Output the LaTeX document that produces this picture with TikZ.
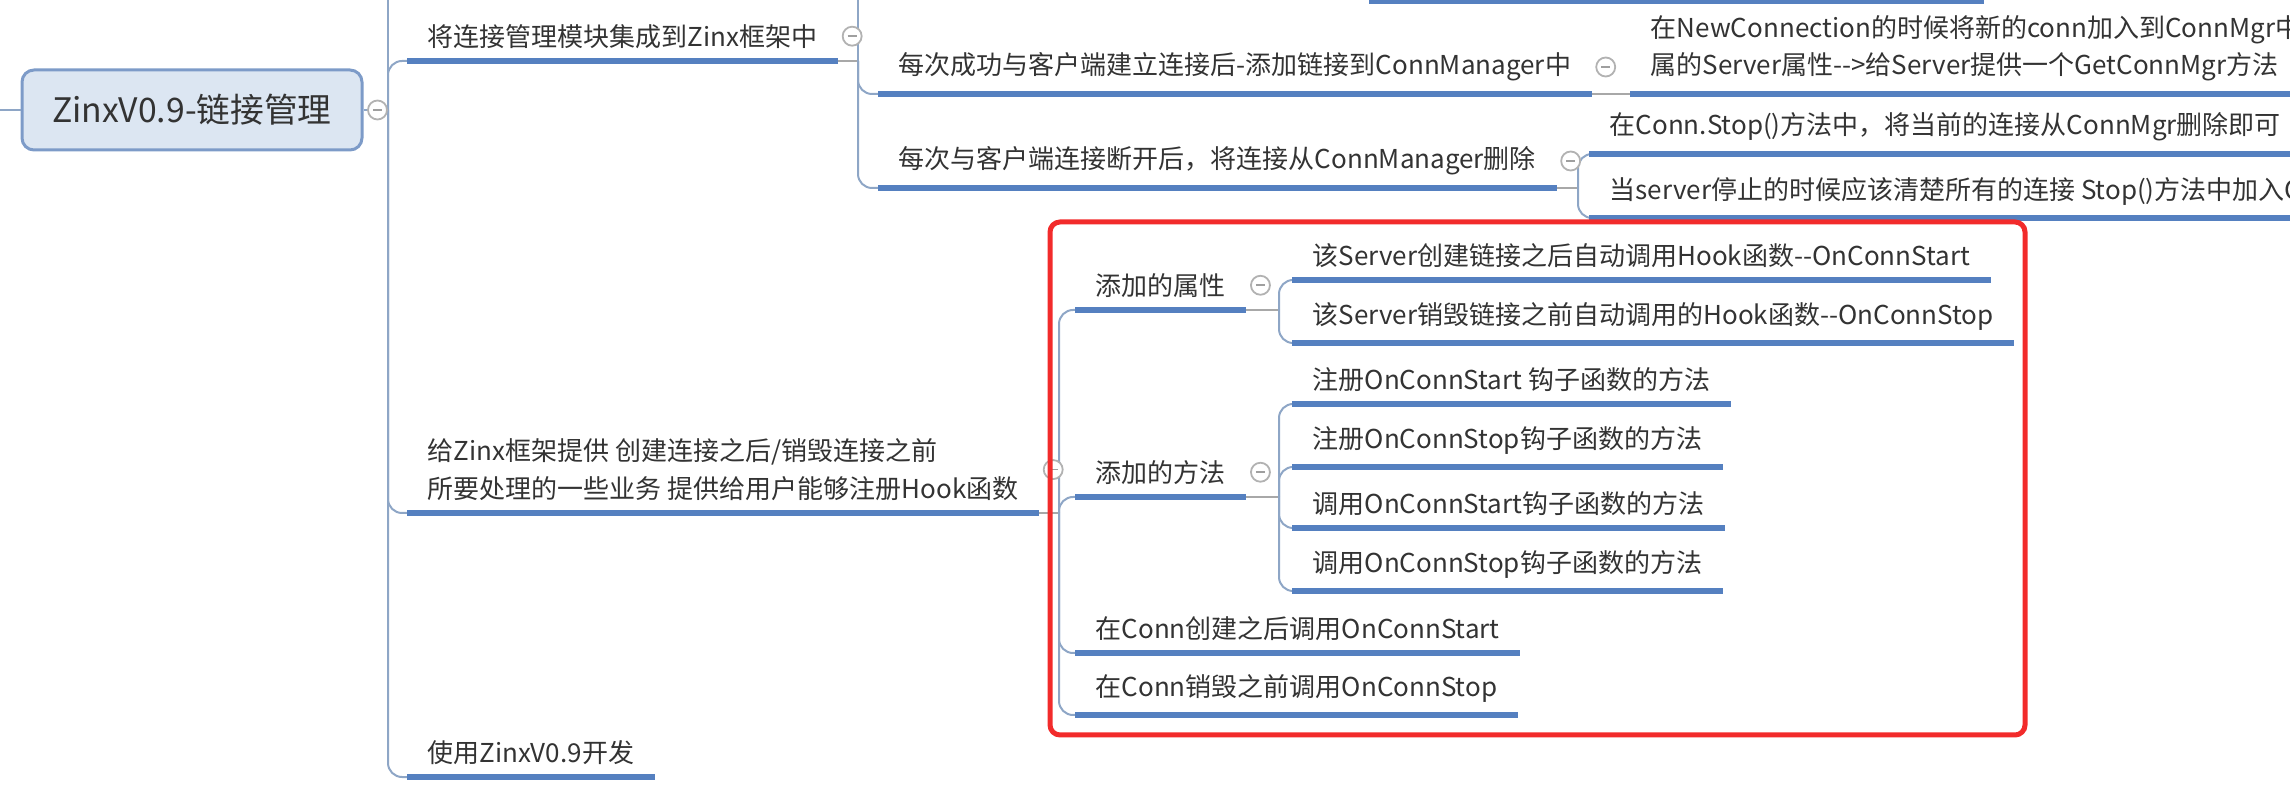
\documentclass[tikz,border=0pt]{standalone}
\usepackage{fontspec}
\setmainfont{Noto Sans CJK SC}
\definecolor{ulblue}{HTML}{5580C0}
\definecolor{linkgray}{HTML}{8EA6C6}
\definecolor{stubgray}{HTML}{A8A8A8}
\definecolor{txtgray}{HTML}{333333}
\definecolor{rootfill}{HTML}{DCE6F2}
\definecolor{rootline}{HTML}{7D9BC8}
\definecolor{markred}{HTML}{F22B2B}
\tikzset{
  topic/.style={anchor=south west, inner xsep=2mm, inner ysep=1.2mm, text=txtgray,
    font=\fontsize{7.4}{10.6}\selectfont, align=left},
  roottopic/.style={draw=rootline, line width=0.3mm, fill=rootfill, rounded corners=1.2mm,
    minimum width=34mm, minimum height=8mm, text=txtgray, font=\fontsize{9.6}{12}\selectfont},
  uline/.style={draw=ulblue, line width=0.55mm},
  link/.style={draw=linkgray, line width=0.2mm, rounded corners=1.4mm},
  stub/.style={draw=stubgray, line width=0.25mm},
  fold/.style={circle, draw=gray!60, line width=0.18mm, fill=white, minimum size=1.9mm, inner sep=0pt,
    path picture={\draw[gray!75, line width=0.18mm]
      ([xshift=-0.45mm]path picture bounding box.center) -- ([xshift=0.45mm]path picture bounding box.center);}},
  markbox/.style={draw=markred, line width=0.5mm, rounded corners=1mm},
}
\begin{document}
\begin{tikzpicture}[x=0.1mm, y=-0.1mm]
        % \draw[help lines, gray!50, very thin] (0,0) grid[step=100] (2290,794);
        \useasboundingbox (0,0) rectangle (2290,794);
        \clip (0,0) rectangle (2290,794);

        \node[roottopic] (root) at (192,110) {ZinxV0.9-链接管理};

        \node[topic] (a) at (407,61) {将连接管理模块集成到Zinx框架中};
        \node[topic] (a1) at (878,94) {每次成功与客户端建立连接后-添加链接到ConnManager中};
        \node[topic] (a11) at (1630,94) {在NewConnection的时候将新的conn加入到ConnMgr中\\属的Server属性-{}->给Server提供一个GetConnMgr方法};
        \node[topic] (a2) at (878,188) {每次与客户端连接断开后，将连接从ConnManager删除};
        \node[topic] (a21) at (1589,154) {在Conn.Stop()方法中，将当前的连接从ConnMgr删除即可};
        \node[topic] (a22) at (1589,218) {当server停止的时候应该清楚所有的连接 Stop()方法中加入C};

        \node[topic] (b) at (407,513) {给Zinx框架提供 创建连接之后/销毁连接之前\\所要处理的一些业务 提供给用户能够注册Hook函数};
        \node[topic] (b1) at (1075,310) {添加的属性};
        \node[topic] (b11) at (1292,280) {该Server创建链接之后自动调用Hook函数-{}-OnConnStart};
        \node[topic] (b12) at (1292,343) {该Server销毁链接之前自动调用的Hook函数-{}-OnConnStop};
        \node[topic] (b2) at (1075,497) {添加的方法};
        \node[topic] (b21) at (1292,404) {注册OnConnStart 钩子函数的方法};
        \node[topic] (b22) at (1292,467) {注册OnConnStop钩子函数的方法};
        \node[topic] (b23) at (1292,528) {调用OnConnStart钩子函数的方法};
        \node[topic] (b24) at (1292,591) {调用OnConnStop钩子函数的方法};
        \node[topic] (b3) at (1075,653) {在Conn创建之后调用OnConnStart};
        \node[topic] (b4) at (1075,715) {在Conn销毁之前调用OnConnStop};

        \node[topic] (c) at (407,777) {使用ZinxV0.9开发};

        % junctions of the branch lines
        \coordinate (jroot) at (388,110);
        \coordinate (ja) at (858,61);
        \coordinate (ja2) at (1578,188);
        \coordinate (jb) at (1059,513);
        \coordinate (jb1) at (1279,310);
        \coordinate (jb2) at (1279,497);
        \coordinate (topl) at (1369,1);
        \coordinate (topr) at (1984,1);

        \draw[link] (root.west) -- (-10,110);
        \draw[link] (root.east) -- (jroot);
        \draw[link] (jroot) -- (388,-10);
        \foreach \n in {a,b,c}
          \draw[link] (jroot) |- (\n.south west);

        \draw[stub] (a.south east) -- (ja);
        \draw[link] (ja) -- (858,-10);
        \foreach \n in {a1,a2}
          \draw[link] (ja) |- (\n.south west);
        \draw[stub] (a1.south east) -- (a11.south west);
        \draw[stub] (a2.south east) -- (ja2);
        \foreach \n in {a21,a22}
          \draw[link] (ja2) |- (\n.south west);

        \draw[stub] (b.south east) -- (jb);
        \foreach \n in {b1,b2,b3,b4}
          \draw[link] (jb) |- (\n.south west);
        \draw[stub] (b1.south east) -- (jb1);
        \foreach \n in {b11,b12}
          \draw[link] (jb1) |- (\n.south west);
        \draw[stub] (b2.south east) -- (jb2);
        \foreach \n in {b21,b22,b23,b24}
          \draw[link] (jb2) |- (\n.south west);

        \foreach \n in {a,a1,a11,a2,a21,a22,b,b1,b11,b12,b2,b21,b22,b23,b24,b3,b4,c}
          \draw[uline] (\n.south west) -- (\n.south east);
        \draw[uline] (topl) -- (topr);

        \foreach \n in {root,a,a1,a2,b,b1,b2}
          \node[fold] (f\n) at ([xshift=1.4mm]\n.east) {};

        \draw[markbox] (1050,222) rectangle (2025,735);
      \end{tikzpicture}
\end{document}
